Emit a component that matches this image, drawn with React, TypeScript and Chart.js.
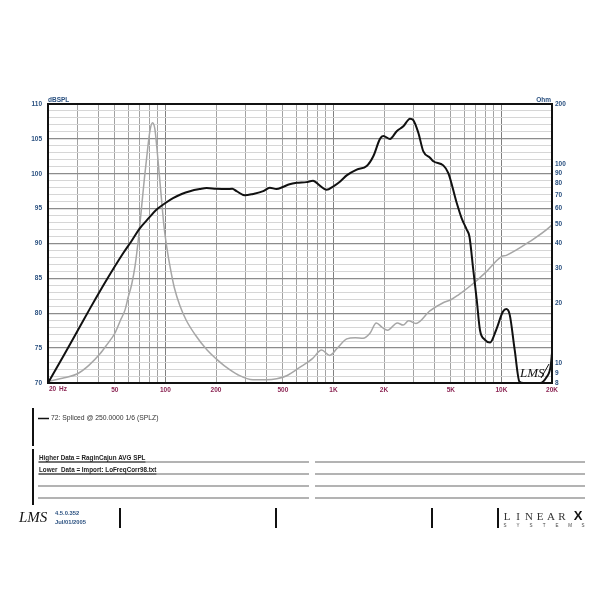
import React, { useEffect, useRef } from 'react';
import { Chart, registerables } from 'chart.js';
Chart.register(...registerables);

// ---- Data ----
const splFreq = [20, 25, 30, 35.6, 44.7, 56, 63, 70, 80, 88, 100, 111, 125, 140, 160, 176, 200, 231, 250, 265, 297, 332, 382, 418, 458, 500, 548, 605, 690, 756, 830, 910, 1000, 1097, 1205, 1376, 1578, 1727, 1893, 1982, 2172, 2381, 2607, 2856, 2987, 3200, 3429, 3757, 3930, 4508, 4830, 5421, 5800, 6213, 6450, 6800, 7131, 7450, 7980, 8560, 9300, 10200, 10700, 11200, 12000, 12800, 13500, 17000, 18500, 19600, 20000];
const splDb = [70.0, 74.1, 77.5, 80.7, 84.8, 88.6, 90.4, 92.1, 93.7, 94.8, 95.8, 96.5, 97.1, 97.5, 97.8, 97.95, 97.85, 97.8, 97.85, 97.5, 96.9, 97.1, 97.5, 98.0, 97.8, 98.1, 98.5, 98.7, 98.8, 99.0, 98.3, 97.7, 98.2, 98.9, 99.8, 100.6, 101.1, 102.5, 105.0, 105.4, 105.0, 106.1, 106.8, 107.9, 107.7, 105.9, 103.2, 102.3, 101.8, 101.2, 100.1, 95.8, 93.6, 92.0, 91.0, 86.2, 81.9, 77.6, 76.2, 75.8, 77.6, 80.2, 80.6, 79.8, 74.7, 70.2, 70, 70, 70.8, 72.3, 74.3];

const impFreq = [20, 25, 30, 35, 40.8, 45, 50, 54, 57.5, 60, 63, 66, 69, 72, 75, 78, 81, 83.9, 86.5, 89, 92, 95, 98, 102, 107, 113, 122, 133, 150, 177, 200, 230, 270, 332, 400, 460, 527, 633, 750, 850, 950, 1050, 1200, 1350, 1500, 1650, 1800, 1950, 2100, 2400, 2600, 2800, 3100, 3750, 4500, 5000, 5500, 6800, 8000, 10000, 10700, 14800, 19500, 20000];
const impOhm = [8.15, 8.5, 8.9, 9.8, 11.2, 12.5, 14.2, 16.5, 18.6, 21.5, 25, 31, 42, 60, 85, 115, 148, 161, 150, 120, 88, 65, 49, 38, 30, 24, 19.5, 16.5, 14.0, 11.7, 10.6, 9.6, 8.8, 8.3, 8.3, 8.4, 8.7, 9.6, 10.6, 11.7, 11.0, 11.9, 13.3, 13.5, 13.4, 14.2, 16.0, 15.2, 14.7, 16.0, 15.6, 16.4, 15.9, 18.4, 20.2, 20.9, 22.0, 25.2, 28.5, 34.4, 34.9, 41, 48.6, 49.7];

const xGridFreqs = [20, 30, 40, 50, 60, 70, 80, 90, 100, 200, 300, 400, 500, 600, 700, 800, 900, 1000, 2000, 3000, 4000, 5000, 6000, 7000, 8000, 9000, 10000, 20000];
const xTickLabels: Record<number, string> = { 50: '50', 100: '100', 200: '200', 500: '500', 1000: '1K', 2000: '2K', 5000: '5K', 10000: '10K', 20000: '20K' };
const dbTicks = [70, 71, 72, 73, 74, 75, 76, 77, 78, 79, 80, 81, 82, 83, 84, 85, 86, 87, 88, 89, 90, 91, 92, 93, 94, 95, 96, 97, 98, 99, 100, 101, 102, 103, 104, 105, 106, 107, 108, 109, 110];
const dbLabels = [70, 75, 80, 85, 90, 95, 100, 105, 110];
const ohmTicks = [8, 9, 10, 20, 30, 40, 50, 60, 70, 80, 90, 100, 200];

const legendText = '72: Spliced @ 250.0000 1/6 (SPLZ)';
const noteLines = ['Higher Data = RaginCajun AVG SPL', 'Lower  Data = Import: LoFreqCorr98.txt'];
const versionText = '4.5.0.352';
const dateText = 'Jul/01/2005';

const BLUE = '#2b5180';
const MAROON = '#8a2352';
const FONT = '"Liberation Sans", Arial, sans-serif';

const decorPlugin = {
  id: 'decor',
  afterDraw(chart: any) {
    const { ctx, chartArea: a, scales } = chart;
    ctx.save();
    // frame
    ctx.strokeStyle = '#111';
    ctx.lineWidth = 2;
    ctx.strokeRect(a.left, a.top, a.right - a.left, a.bottom - a.top);

    // axis titles
    ctx.font = `bold 6.5px ${FONT}`;
    ctx.fillStyle = BLUE;
    ctx.textBaseline = 'alphabetic';
    ctx.textAlign = 'left';
    ctx.fillText('dBSPL', a.left, a.top - 2);
    ctx.textAlign = 'right';
    ctx.fillText('Ohm', a.right - 1, a.top - 2);

    // 20 Hz label
    const x20 = scales.x.getPixelForValue(20);
    ctx.fillStyle = MAROON;
    ctx.textAlign = 'left';
    ctx.textBaseline = 'top';
    ctx.fillText('20', x20 + 1, a.bottom + 3);
    ctx.fillText('Hz', x20 + 11, a.bottom + 3);

    // LMS logo in plot
    ctx.fillStyle = '#111';
    ctx.textBaseline = 'alphabetic';
    ctx.textAlign = 'left';
    ctx.font = 'italic 13px "Liberation Serif", serif';
    ctx.fillText('LMS', 520, 377);
    ctx.strokeStyle = '#111';
    ctx.lineWidth = 1;
    ctx.beginPath();
    ctx.moveTo(541, 378);
    ctx.lineTo(549, 364);
    ctx.stroke();

    // left vertical separators
    ctx.strokeStyle = '#111';
    ctx.lineWidth = 2;
    ctx.beginPath();
    ctx.moveTo(33, 408); ctx.lineTo(33, 446);
    ctx.moveTo(33, 449); ctx.lineTo(33, 505);
    ctx.stroke();

    // legend entry
    ctx.lineWidth = 1.5;
    ctx.beginPath();
    ctx.moveTo(38, 418.5); ctx.lineTo(49, 418.5);
    ctx.stroke();
    ctx.fillStyle = '#333';
    ctx.font = `6.8px ${FONT}`;
    ctx.textBaseline = 'middle';
    ctx.fillText(legendText, 51, 418.5);

    // note lines
    ctx.strokeStyle = '#9a9a9a';
    ctx.lineWidth = 1.5;
    const ly = [462, 474, 486, 498];
    ctx.beginPath();
    ly.forEach((y) => {
      ctx.moveTo(38, y); ctx.lineTo(309, y);
      ctx.moveTo(315, y); ctx.lineTo(585, y);
    });
    ctx.stroke();
    ctx.font = `bold 6.3px ${FONT}`;
    ctx.fillStyle = '#222';
    ctx.textBaseline = 'alphabetic';
    noteLines.forEach((t, i) => {
      const y = ly[i] - 2;
      ctx.fillText(t, 39, y);
      const w = ctx.measureText(t).width;
      ctx.strokeStyle = '#333';
      ctx.lineWidth = 1.2;
      ctx.beginPath();
      ctx.moveTo(39, ly[i]); ctx.lineTo(39 + w, ly[i]);
      ctx.stroke();
    });

    // bottom row: LMS logo
    ctx.fillStyle = '#111';
    ctx.font = 'italic 15px "Liberation Serif", serif';
    ctx.fillText('LMS', 19, 522);
    ctx.fillStyle = BLUE;
    ctx.font = `bold 5.8px ${FONT}`;
    ctx.fillText(versionText, 55, 515);
    ctx.fillText(dateText, 55, 524);

    // bottom bars
    ctx.strokeStyle = '#111';
    ctx.lineWidth = 2;
    ctx.beginPath();
    [120, 276, 432, 498].forEach((x) => { ctx.moveTo(x, 508); ctx.lineTo(x, 528); });
    ctx.stroke();

    // LINEARX logo
    ctx.fillStyle = '#333';
    ctx.textAlign = 'center';
    ctx.font = '11px "Liberation Serif", serif';
    const letters = ['L', 'I', 'N', 'E', 'A', 'R'];
    letters.forEach((l, i) => ctx.fillText(l, 507 + i * 11, 520));
    ctx.fillStyle = '#111';
    ctx.font = `bold 13px ${FONT}`;
    ctx.fillText('X', 578, 520);
    ctx.fillStyle = '#444';
    ctx.font = `4.5px ${FONT}`;
    const sys = ['S', 'Y', 'S', 'T', 'E', 'M', 'S'];
    sys.forEach((l, i) => ctx.fillText(l, 505 + i * 13, 527));

    ctx.restore();
  },
};

export default function App() {
  const ref = useRef<HTMLCanvasElement | null>(null);
  useEffect(() => {
    const canvas = ref.current;
    if (!canvas) return;
    const tickFont = { family: FONT, size: 6.5, weight: 'bold' as const };
    const chart = new Chart(canvas, {
      type: 'line',
      data: {
        datasets: [
          {
            label: legendText,
            data: splFreq.map((f, i) => ({ x: f, y: splDb[i] })),
            borderColor: '#111',
            borderWidth: 2,
            pointRadius: 0,
            yAxisID: 'y',
            cubicInterpolationMode: 'monotone',
          },
          {
            label: 'Impedance',
            data: impFreq.map((f, i) => ({ x: f, y: impOhm[i] })),
            borderColor: '#a6a6a6',
            borderWidth: 1.5,
            pointRadius: 0,
            yAxisID: 'y2',
            cubicInterpolationMode: 'monotone',
          },
        ],
      },
      options: {
        responsive: false,
        animation: false,
        devicePixelRatio: 1,
        layout: { padding: { left: 0, right: 0, top: 104, bottom: 600 - 383 - 20 } },
        plugins: { legend: { display: false }, tooltip: { enabled: false } },
        scales: {
          x: {
            type: 'logarithmic',
            position: 'bottom',
            min: 20,
            max: 20000,
            afterBuildTicks: (s: any) => { s.ticks = xGridFreqs.map((v) => ({ value: v })); },
            afterFit: (s: any) => { s.height = 20; },
            ticks: {
              autoSkip: false,
              maxRotation: 0,
              minRotation: 0,
              padding: 3,
              color: MAROON,
              font: tickFont,
              callback: (v: any) => xTickLabels[Number(v)] ?? '',
            },
            grid: {
              drawTicks: false,
              color: (c: any) => {
                const v = c.tick ? c.tick.value : 0;
                return v === 100 || v === 1000 || v === 10000 ? '#808080' : '#a2a2a2';
              },
              lineWidth: 1,
            },
            border: { display: false },
          },
          y: {
            type: 'linear',
            position: 'left',
            min: 70,
            max: 110,
            afterBuildTicks: (s: any) => { s.ticks = dbTicks.map((v) => ({ value: v })); },
            afterFit: (s: any) => { s.width = 48; },
            ticks: {
              autoSkip: false,
              padding: 6,
              color: BLUE,
              font: tickFont,
              callback: (v: any) => (dbLabels.includes(Number(v)) ? String(v) : ''),
            },
            grid: {
              drawTicks: false,
              color: (c: any) => {
                const v = c.tick ? c.tick.value : 0;
                return v % 5 === 0 ? '#8c8c8c' : '#d6d6d6';
              },
              lineWidth: (c: any) => {
                const v = c.tick ? c.tick.value : 0;
                return v % 5 === 0 ? 1.3 : 1;
              },
            },
            border: { display: false },
          },
          y2: {
            type: 'logarithmic',
            position: 'right',
            min: 8,
            max: 200,
            afterBuildTicks: (s: any) => { s.ticks = ohmTicks.map((v) => ({ value: v })); },
            afterFit: (s: any) => { s.width = 48; },
            ticks: {
              autoSkip: false,
              padding: 3,
              color: BLUE,
              font: tickFont,
              callback: (v: any) => String(v),
            },
            grid: { display: false, drawTicks: false },
            border: { display: false },
          },
        },
      } as any,
      plugins: [decorPlugin],
    });
    return () => chart.destroy();
  }, []);

  return (
    <div style={{ position: 'absolute', left: 0, top: 0, width: 600, height: 600, background: '#fff' }}>
      <canvas ref={ref} width={600} height={600} style={{ display: 'block', width: 600, height: 600 }} />
    </div>
  );
}
